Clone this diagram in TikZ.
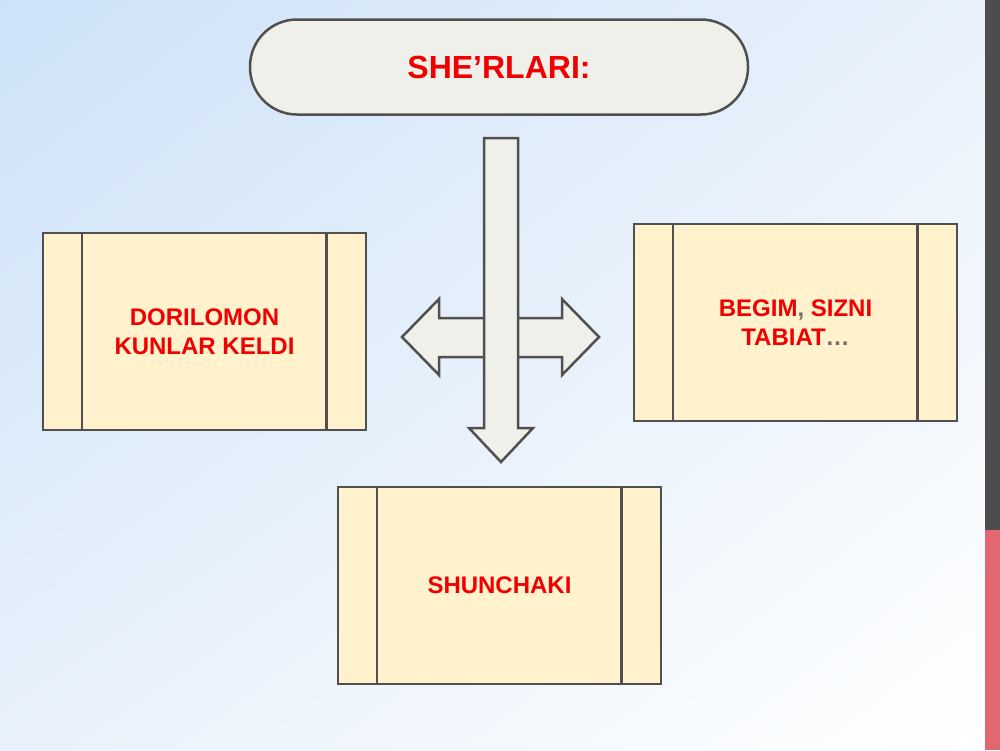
\documentclass[tikz,border=0pt]{standalone}
\usepackage{fontspec}
\setmainfont{Liberation Sans}
\usepackage{tikz}
\usetikzlibrary{shapes.geometric, arrows, positioning, shadings}
\definecolor{bgblue}{RGB}{205,226,248}
\definecolor{bgpale}{RGB}{232,241,251}
\definecolor{edgegray}{RGB}{80,80,80}
\definecolor{shapefill}{RGB}{240,240,234}
\definecolor{boxfill}{RGB}{255,242,204}
\definecolor{textred}{RGB}{240,0,0}
\definecolor{dotgray}{RGB}{110,110,110}
\definecolor{bardark}{RGB}{77,77,77}
\definecolor{barred}{RGB}{224,104,110}

\begin{document}
\begin{tikzpicture}[x=1pt, y=-1pt]
        \tikzstyle{title} = [rectangle, rounded corners=47pt, minimum width=498pt, minimum height=95pt, draw=edgegray, line width=2.5pt, fill=shapefill, text=textred, font=\fontsize{32}{38}\selectfont\bfseries]
        \tikzstyle{poem} = [rectangle, minimum width=323pt, minimum height=197pt, draw=edgegray, line width=2.5pt, fill=boxfill, text=textred, align=center, font=\fontsize{24}{29}\selectfont\bfseries]
        \tikzstyle{divider} = [draw=edgegray, line width=2.5pt]
        \tikzstyle{blockarrow} = [draw=edgegray, line width=2.5pt, fill=shapefill, line join=miter]

        % background
        \useasboundingbox (0,0) rectangle (1000,750);
        \shade[upper left=bgblue, upper right=bgpale, lower left=bgpale, lower right=white] (0,0) rectangle (985,750);
        \fill[bardark] (985,0) rectangle (1000,530);
        \fill[barred] (985,530) rectangle (1000,750);

        \node (title) [title] at (499,67) {SHE’RLARI:};

        \node (dorilomon) [poem] at (204.5,331.5) {DORILOMON\\KUNLAR KELDI};
        \node (begim) [poem] at (795.5,322.5) {BEGIM{\color{dotgray},} SIZNI\\TABIAT{\color{dotgray}…}};
        \node (shunchaki) [poem] at (499.5,585.5) {SHUNCHAKI};

        \foreach \b in {dorilomon, begim, shunchaki} {
            \draw [divider] ([xshift=40pt]\b.north west) -- ([xshift=40pt]\b.south west);
            \draw [divider] ([xshift=-41pt]\b.north east) -- ([xshift=-41pt]\b.south east);
        }

        % arrows
        \draw [blockarrow] (402,337) -- (439,299) -- (439,318) -- (562,318) -- (562,299) -- (599,337)
            -- (562,375) -- (562,357) -- (439,357) -- (439,375) -- cycle;
        \draw [blockarrow] (484,138) -- (518,138) -- (518,428) -- (533,428) -- (501,462) -- (469,428)
            -- (484,428) -- cycle;
    \end{tikzpicture}
\end{document}
